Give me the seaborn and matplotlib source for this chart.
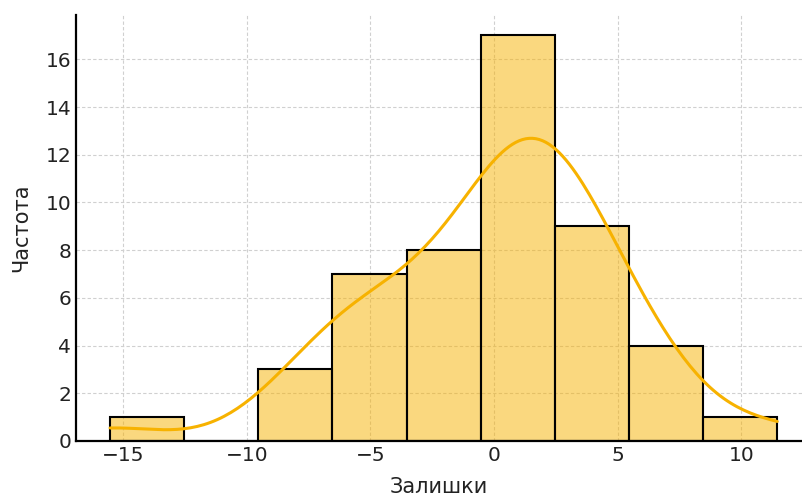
import matplotlib
matplotlib.use("Agg")
import matplotlib.pyplot as plt
import seaborn as sns
import pandas as pd

# Residual values (read/estimated from the histogram bins)
bin1 = [-15.53]
bin3 = [-9.0, -8.2, -7.0]
bin4 = [-6.5, -6.2, -5.8, -5.4, -5.0, -4.5, -3.9]
bin5 = [-3.4, -3.0, -2.6, -2.2, -1.8, -1.4, -1.0, -0.7]
bin6 = [-0.5, -0.25, 0.0, 0.25, 0.5, 0.7, 0.9, 1.1, 1.3, 1.5, 1.7, 1.85, 2.0, 2.1, 2.2, 2.3, 2.4]
bin7 = [2.6, 2.9, 3.2, 3.6, 3.9, 4.2, 4.6, 5.0, 5.3]
bin8 = [5.6, 6.1, 6.8, 7.8]
bin9 = [11.45]
residuals = bin1 + bin3 + bin4 + bin5 + bin6 + bin7 + bin8 + bin9

x_label = "Залишки"
y_label = "Частота"

df = pd.DataFrame({"resid": residuals})

sns.set_style("white")
plt.rcParams['font.family'] = ['DejaVu Sans']

fig = plt.figure(figsize=(8.02, 4.98), dpi=100)
ax = fig.add_axes([0.095, 0.1145, 0.905, 0.855])

sns.histplot(data=df, x="resid", bins=9, kde=True, color="#F7B200",
             alpha=0.5, edgecolor="black", linewidth=1.5,
             line_kws={"lw": 2.2}, ax=ax)

ax.set_xlim(-16.9, 12.45)
ax.set_ylim(0, 17.85)
ax.set_xticks([-15, -10, -5, 0, 5, 10])
ax.set_yticks(range(0, 17, 2))
ax.grid(True, linestyle=(0, (3, 2)), color="#d0d0d0", linewidth=0.8)
ax.set_axisbelow(True)
for s in ["top", "right"]:
    ax.spines[s].set_visible(False)
for s in ["left", "bottom"]:
    ax.spines[s].set_color("black")
    ax.spines[s].set_linewidth(1.6)
ax.tick_params(direction="in", length=4, width=1.5, labelsize=14.5, colors="#222222")
ax.set_xlabel(x_label, fontsize=15, color="#222222", labelpad=9)
ax.set_ylabel(y_label, fontsize=15, color="#222222", labelpad=10)

fig.savefig("out.png", dpi=100)
